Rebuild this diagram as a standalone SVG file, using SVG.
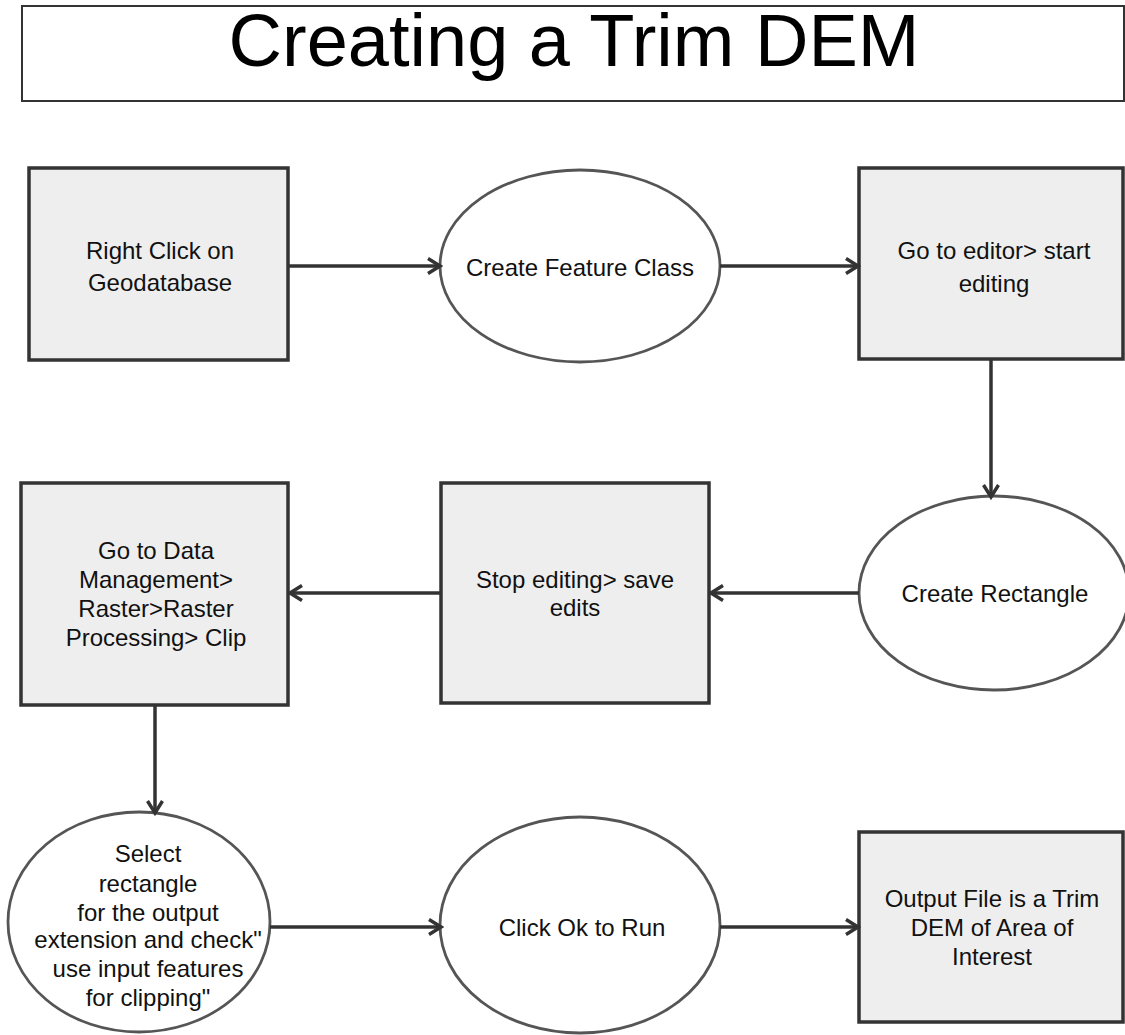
<svg xmlns="http://www.w3.org/2000/svg" width="1125" height="1035" viewBox="0 0 1125 1035">
<defs>
<marker id="arr" markerWidth="18" markerHeight="20" refX="15" refY="10" orient="auto" markerUnits="userSpaceOnUse">
<path d="M3,2.5 L15,10 L3,17.5" fill="none" stroke="#333" stroke-width="3.4"/>
</marker>
<style>
.box{fill:#eeeeee;stroke:#333;stroke-width:3.5}
.ell{fill:#ffffff;stroke:#555;stroke-width:2.8}
.t{font-family:"Liberation Sans",Arial,sans-serif;font-size:24px;fill:#111;text-anchor:middle}
.title{font-family:"Liberation Sans",Arial,sans-serif;font-size:74px;fill:#000;text-anchor:middle}
.c{stroke:#333;stroke-width:3.5;fill:none;marker-end:url(#arr)}
</style>
</defs>
<rect width="1125" height="1035" fill="#fff"/>
<g id="title">
<rect x="22" y="6" width="1102" height="95" fill="#fff" stroke="#333" stroke-width="2"/>
<text class="title" x="574" y="66">Creating a Trim DEM</text>
</g>
<g id="n1">
<rect class="box" x="29" y="168" width="259" height="192"/>
<text class="t" x="160" y="259">Right Click on</text>
<text class="t" x="160" y="291">Geodatabase</text>
</g>
<g id="n2">
<ellipse class="ell" cx="580" cy="266" rx="140" ry="96"/>
<text class="t" x="580" y="276">Create Feature Class</text>
</g>
<g id="n3">
<rect class="box" x="859" y="168" width="264" height="191"/>
<text class="t" x="994" y="259">Go to editor&gt; start</text>
<text class="t" x="994" y="292">editing</text>
</g>
<g id="n4">
<ellipse class="ell" cx="994" cy="593" rx="135" ry="97"/>
<text class="t" x="995" y="602">Create Rectangle</text>
</g>
<g id="n5">
<rect class="box" x="441" y="483" width="268" height="220"/>
<text class="t" x="575" y="588">Stop editing&gt; save</text>
<text class="t" x="575" y="616">edits</text>
</g>
<g id="n6">
<rect class="box" x="21" y="483" width="267" height="222"/>
<text class="t" x="156" y="559">Go to Data</text>
<text class="t" x="156" y="588">Management&gt;</text>
<text class="t" x="156" y="617">Raster&gt;Raster</text>
<text class="t" x="156" y="646">Processing&gt; Clip</text>
</g>
<g id="n7">
<ellipse class="ell" cx="139" cy="922" rx="131" ry="110"/>
<text class="t" x="148" y="862">Select</text>
<text class="t" x="148" y="892">rectangle</text>
<text class="t" x="148" y="921">for the output</text>
<text class="t" x="148" y="948">extension and check"</text>
<text class="t" x="148" y="977">use input features</text>
<text class="t" x="148" y="1006">for clipping"</text>
</g>
<g id="n8">
<ellipse class="ell" cx="580" cy="925" rx="140" ry="108"/>
<text class="t" x="582" y="936">Click Ok to Run</text>
</g>
<g id="n9">
<rect class="box" x="859" y="832" width="264" height="190"/>
<text class="t" x="992" y="907">Output File is a Trim</text>
<text class="t" x="992" y="936">DEM of Area of</text>
<text class="t" x="992" y="965">Interest</text>
</g>
<g id="connectors">
<line class="c" x1="289" y1="266" x2="440" y2="266"/>
<line class="c" x1="720" y1="266" x2="858" y2="266"/>
<line class="c" x1="991" y1="360" x2="991" y2="497"/>
<line class="c" x1="859" y1="593" x2="711" y2="593"/>
<line class="c" x1="441" y1="593" x2="290" y2="593"/>
<line class="c" x1="155" y1="706" x2="155" y2="813"/>
<line class="c" x1="270" y1="927" x2="441" y2="927"/>
<line class="c" x1="720" y1="927" x2="858" y2="927"/>
</g>
</svg>
